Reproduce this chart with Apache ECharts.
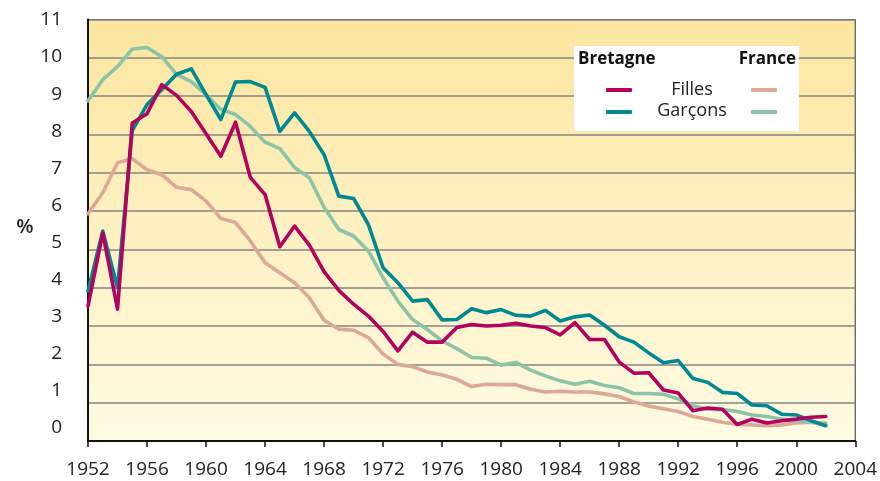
<!DOCTYPE html>
<html>
<head>
<meta charset="utf-8">
<script src="https://cdn.jsdelivr.net/npm/echarts@6/dist/echarts.min.js"></script>
<style>
  html, body { margin: 0; padding: 0; background: #fff; }
  #main { width: 880px; height: 481px; }
</style>
</head>
<body>
<div id="main"></div>
<script>
// années 1952 -> 2002
var years = [];
for (var y = 1952; y <= 2002; y++) years.push(y);

var xTicks = [1952, 1956, 1960, 1964, 1968, 1972, 1976, 1980, 1984, 1988, 1992, 1996, 2000, 2004];
var yTicks = [0, 1, 2, 3, 4, 5, 6, 7, 8, 9, 10, 11];

var bretagneFilles = [3.52, 5.43, 3.44, 8.30, 8.54, 9.30, 9.02, 8.60, 8.02, 7.43,
  8.32, 6.88, 6.43, 5.07, 5.61, 5.11, 4.42, 3.93, 3.57, 3.26,
  2.86, 2.35, 2.84, 2.58, 2.58, 2.96, 3.04, 3.00, 3.02, 3.07,
  3.00, 2.96, 2.77, 3.09, 2.65, 2.65, 2.06, 1.77, 1.78, 1.33,
  1.25, 0.79, 0.86, 0.83, 0.43, 0.57, 0.47, 0.53, 0.57, 0.62, 0.64];

var bretagneGarcons = [3.91, 5.48, 4.00, 8.10, 8.78, 9.17, 9.57, 9.71, 9.04, 8.39,
  9.37, 9.38, 9.23, 8.08, 8.56, 8.08, 7.47, 6.39, 6.33, 5.65,
  4.52, 4.13, 3.65, 3.69, 3.16, 3.17, 3.45, 3.35, 3.43, 3.28,
  3.26, 3.41, 3.13, 3.24, 3.29, 3.02, 2.72, 2.58, 2.30, 2.04,
  2.10, 1.63, 1.53, 1.27, 1.24, 0.94, 0.92, 0.70, 0.68, 0.53, 0.40];

var franceFilles = [5.93, 6.48, 7.26, 7.37, 7.08, 6.95, 6.62, 6.56, 6.26, 5.81,
  5.70, 5.22, 4.65, 4.39, 4.13, 3.74, 3.15, 2.92, 2.89, 2.70,
  2.27, 2.00, 1.94, 1.80, 1.72, 1.61, 1.42, 1.48, 1.47, 1.47,
  1.35, 1.28, 1.30, 1.28, 1.28, 1.23, 1.16, 1.02, 0.91, 0.84,
  0.77, 0.64, 0.57, 0.49, 0.44, 0.42, 0.40, 0.42, 0.47, 0.49, 0.47];

var franceGarcons = [8.88, 9.43, 9.77, 10.23, 10.27, 10.03, 9.57, 9.38, 9.04, 8.65,
  8.52, 8.21, 7.80, 7.63, 7.14, 6.87, 6.10, 5.52, 5.35, 4.96,
  4.26, 3.65, 3.17, 2.91, 2.61, 2.41, 2.18, 2.16, 1.98, 2.05,
  1.85, 1.70, 1.57, 1.48, 1.56, 1.45, 1.39, 1.24, 1.24, 1.22,
  1.10, 0.92, 0.83, 0.82, 0.77, 0.68, 0.64, 0.57, 0.53, 0.49, 0.44];

function pairs(vals) {
  return years.map(function (yr, i) { return [yr, vals[i]]; });
}

var FONT = '"Open Sans", "Noto Sans", sans-serif';

function lineSerie(name, data, color) {
  return {
    name: name,
    type: 'line',
    xAxisIndex: 0,
    yAxisIndex: 0,
    data: pairs(data),
    showSymbol: false,
    symbol: 'none',
    color: color,
    lineStyle: { width: 3.6, color: color, cap: 'round', join: 'round' },
    emphasis: { disabled: true }
  };
}

var chart = echarts.init(document.getElementById('main'), null, { renderer: 'canvas' });

var option = {
  animation: false,
  grid: [{
    left: 88, right: 24, top: 19.5, bottom: 40,
    show: true,
    borderColor: '#555',
    borderWidth: 1.2,
    backgroundColor: {
      type: 'linear', x: 0, y: 0, x2: 0, y2: 1,
      colorStops: [{ offset: 0, color: '#FCE69F' }, { offset: 1, color: '#FFFBE3' }]
    }
  }, {
    // grille fantôme pour les étiquettes de l'axe y (légèrement décalées dans l'original)
    left: 88, right: 24, top: 20, bottom: 53
  }],
  xAxis: [{
    gridIndex: 0,
    type: 'value',
    min: xTicks[0],
    max: xTicks[xTicks.length - 1],
    interval: 4,
    axisLine: { show: true, lineStyle: { color: '#111', width: 2 } },
    axisTick: { show: true, length: 6, inside: false, lineStyle: { color: '#111', width: 1.5 } },
    splitLine: { show: false },
    axisLabel: {
      margin: 19,
      color: '#222',
      fontFamily: FONT,
      fontSize: 19,
      formatter: function (v) { return String(v); }
    }
  }, {
    gridIndex: 1,
    type: 'value',
    min: 1952, max: 2004,
    show: false
  }],
  yAxis: [{
    gridIndex: 0,
    type: 'value',
    min: yTicks[0],
    max: yTicks[yTicks.length - 1],
    interval: 1,
    axisLine: { show: true, lineStyle: { color: '#111', width: 2 } },
    axisTick: { show: false },
    axisLabel: { show: false },
    splitLine: { show: true, lineStyle: { color: '#858585', width: 1.6 } }
  }, {
    gridIndex: 1,
    type: 'value',
    min: yTicks[0],
    max: yTicks[yTicks.length - 1],
    interval: 1,
    axisLine: { show: false },
    axisTick: { show: false },
    splitLine: { show: false },
    axisLabel: {
      margin: 26,
      color: '#222',
      fontFamily: FONT,
      fontSize: 19
    }
  }],
  legend: [{
    data: ['Bretagne Filles', 'Bretagne Garçons'],
    orient: 'vertical',
    left: 606, top: 88,
    itemWidth: 26, itemHeight: 4, itemGap: 18,
    icon: 'roundRect',
    selectedMode: false,
    formatter: function () { return ''; },
    textStyle: { fontSize: 1, padding: 0 },
    padding: 0,
    z: 110
  }, {
    data: ['France Filles', 'France Garçons'],
    orient: 'vertical',
    left: 751, top: 88,
    itemWidth: 26, itemHeight: 4, itemGap: 18,
    icon: 'roundRect',
    selectedMode: false,
    formatter: function () { return ''; },
    textStyle: { fontSize: 1, padding: 0 },
    padding: 0,
    z: 110
  }],
  graphic: [
    { type: 'rect', z: 100, shape: { x: 574, y: 46, width: 225, height: 85 }, style: { fill: '#fff' } },
    { type: 'text', z: 101, x: 578, y: 59, style: { text: 'Bretagne', font: 'bold 17px ' + FONT, fill: '#111', textAlign: 'left', textVerticalAlign: 'middle' } },
    { type: 'text', z: 101, x: 796, y: 59, style: { text: 'France', font: 'bold 17px ' + FONT, fill: '#111', textAlign: 'right', textVerticalAlign: 'middle' } },
    { type: 'text', z: 101, x: 692, y: 90, style: { text: 'Filles', font: '18px ' + FONT, fill: '#222', textAlign: 'center', textVerticalAlign: 'middle' } },
    { type: 'text', z: 101, x: 692, y: 111, style: { text: 'Garçons', font: '18px ' + FONT, fill: '#222', textAlign: 'center', textVerticalAlign: 'middle' } },
    { type: 'text', z: 101, x: 25, y: 227, style: { text: '%', font: '600 20px ' + FONT, fill: '#222', textAlign: 'center', textVerticalAlign: 'middle' } }
  ],
  series: [
    lineSerie('France Filles', franceFilles, '#DCA898'),
    lineSerie('France Garçons', franceGarcons, '#8CC4A8'),
    lineSerie('Bretagne Garçons', bretagneGarcons, '#008893'),
    lineSerie('Bretagne Filles', bretagneFilles, '#B4005F')
  ]
};

chart.setOption(option);
</script>
</body>
</html>
